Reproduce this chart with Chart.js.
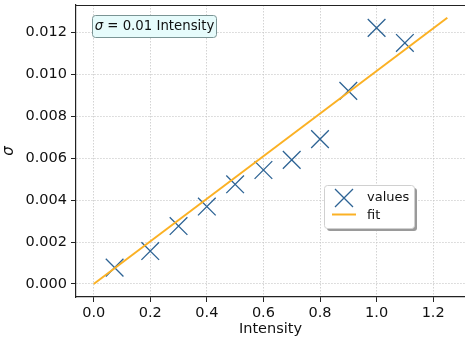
<!DOCTYPE html>
<html>
<head>
<meta charset="utf-8">
<script src="https://cdn.jsdelivr.net/npm/chart.js@4"></script>
<style>
  html, body { margin: 0; padding: 0; background: #fff; }
  #wrap { width: 465px; height: 338px; }
</style>
</head>
<body>
<div id="wrap"><canvas id="chart" width="465" height="338"></canvas></div>
<script>
const intensity = [0.074, 0.2, 0.3, 0.4, 0.5, 0.6, 0.7, 0.8, 0.9, 1.0, 1.1];
const sigma = [0.00078, 0.00157, 0.00276, 0.00369, 0.00475, 0.00543, 0.00591, 0.00690, 0.00920, 0.01220, 0.01148];
const fitX = [0, 1.25];
const fitY = [0, 0.01268];
const xTicks = [0.0, 0.2, 0.4, 0.6, 0.8, 1.0, 1.2];
const yTicks = [0.000, 0.002, 0.004, 0.006, 0.008, 0.010, 0.012];
const annotationText = "σ = 0.01 Intensity";

const FONT = "DejaVu Sans";
const markerColor = "#2d6394";
const fitColor = "#fbb124";

const gridOpts = {
    color: "#c8c8c8",
    lineWidth: 0.8,
    drawTicks: true,
    tickLength: 5,
    tickColor: "#222",
    tickWidth: 1,
    tickBorderDash: []
};

// top spine, legend box and text box
const extras = {
    id: "extras",
    afterDraw(chart) {
        const ctx = chart.ctx;
        const a = chart.chartArea;
        ctx.save();
        ctx.strokeStyle = "#222";
        ctx.lineWidth = 1.2;
        ctx.beginPath();
        ctx.moveTo(a.left, a.top + 0.5);
        ctx.lineTo(a.right, a.top + 0.5);
        ctx.stroke();

        // annotation
        const rest = annotationText.slice(1);
        ctx.font = "italic 13.3px '" + FONT + "'";
        const w1 = ctx.measureText("σ").width;
        ctx.font = "13.3px '" + FONT + "'";
        const w2 = ctx.measureText(rest).width;
        const bx = 92, by = 15, bw = 124, bh = 22;
        ctx.beginPath();
        ctx.roundRect(bx + 0.5, by + 0.5, bw, bh, 3);
        ctx.fillStyle = "#e6fbfb";
        ctx.fill();
        ctx.strokeStyle = "#7a9494";
        ctx.lineWidth = 1;
        ctx.stroke();
        let tx = bx + (bw - w1 - w2) / 2 + 0.5;
        ctx.fillStyle = "#111";
        ctx.textBaseline = "middle";
        ctx.font = "italic 13.3px '" + FONT + "'";
        ctx.fillText("σ", tx, by + bh / 2 + 1);
        ctx.font = "13.3px '" + FONT + "'";
        ctx.fillText(rest, tx + w1, by + bh / 2 + 1);

        // legend
        const lx = 324, ly = 185, lw = 90, lh = 43;
        ctx.fillStyle = "#9a9a9a";
        ctx.beginPath();
        ctx.roundRect(lx + 3, ly + 3, lw, lh, 3);
        ctx.fill();
        ctx.beginPath();
        ctx.roundRect(lx + 0.5, ly + 0.5, lw, lh, 3);
        ctx.fillStyle = "#fff";
        ctx.fill();
        ctx.strokeStyle = "#d0d0d0";
        ctx.stroke();

        const ds = chart.data.datasets;
        ctx.strokeStyle = markerColor;
        ctx.lineWidth = 1.3;
        ctx.beginPath();
        ctx.moveTo(335, 189); ctx.lineTo(353, 207);
        ctx.moveTo(353, 189); ctx.lineTo(335, 207);
        ctx.stroke();
        ctx.strokeStyle = fitColor;
        ctx.lineWidth = 2;
        ctx.beginPath();
        ctx.moveTo(332, 214.5); ctx.lineTo(356, 214.5);
        ctx.stroke();
        ctx.fillStyle = "#111";
        ctx.font = "13px '" + FONT + "'";
        ctx.fillText(ds[0].label, 367, 198);
        ctx.fillText(ds[1].label, 367, 216);
        ctx.restore();
    }
};

const chartElement = document.getElementById("chart").getContext("2d");

const chartConfig = {
    type: "scatter",
    data: {
        datasets: [
            {
                label: "values",
                data: intensity.map((x, i) => ({ x: x, y: sigma[i] })),
                pointStyle: "crossRot",
                pointRadius: 12.5,
                pointHoverRadius: 12.5,
                pointBorderWidth: 1.3,
                borderColor: markerColor,
                backgroundColor: markerColor,
                showLine: false
            },
            {
                label: "fit",
                data: fitX.map((x, i) => ({ x: x, y: fitY[i] })),
                showLine: true,
                pointRadius: 0,
                borderColor: fitColor,
                borderWidth: 2,
                order: -1
            }
        ]
    },
    options: {
        responsive: false,
        animation: false,
        events: [],
        layout: { autoPadding: false, padding: { top: 5, right: 0, left: 0, bottom: 0 } },
        plugins: { legend: { display: false }, tooltip: { enabled: false } },
        scales: {
            x: {
                type: "linear",
                min: -0.0625,
                max: 1.3125,
                afterBuildTicks: s => { s.ticks = xTicks.map(v => ({ value: v })); },
                afterFit: s => { s.height = 41; s.paddingLeft = 0; s.paddingRight = 0; },
                ticks: {
                    color: "#111",
                    padding: 3,
                    maxRotation: 0,
                    font: { family: FONT, size: 14.5 },
                    callback: v => v.toFixed(1)
                },
                grid: gridOpts,
                border: { display: true, color: "#222", width: 1.2, dash: [1.5, 1.5] },
                title: {
                    display: true,
                    text: "Intensity",
                    color: "#111",
                    font: { family: FONT, size: 14.5 },
                    padding: { top: 0, bottom: 0 }
                }
            },
            y: {
                type: "linear",
                min: -0.00062,
                max: 0.01329,
                afterBuildTicks: s => { s.ticks = yTicks.map(v => ({ value: v })); },
                afterFit: s => { s.width = 76; s.paddingTop = 0; s.paddingBottom = 0; },
                ticks: {
                    color: "#111",
                    padding: 4,
                    font: { family: FONT, size: 14.5 },
                    callback: v => v.toFixed(3)
                },
                grid: gridOpts,
                border: { display: true, color: "#222", width: 1.2, dash: [1.5, 1.5] },
                title: {
                    display: true,
                    text: "σ",
                    color: "#111",
                    font: { family: FONT, size: 15, style: "italic" },
                    padding: { top: 0, bottom: 0 }
                }
            }
        }
    },
    plugins: [extras]
};

const chart = new Chart(chartElement, chartConfig);
</script>
</body>
</html>
